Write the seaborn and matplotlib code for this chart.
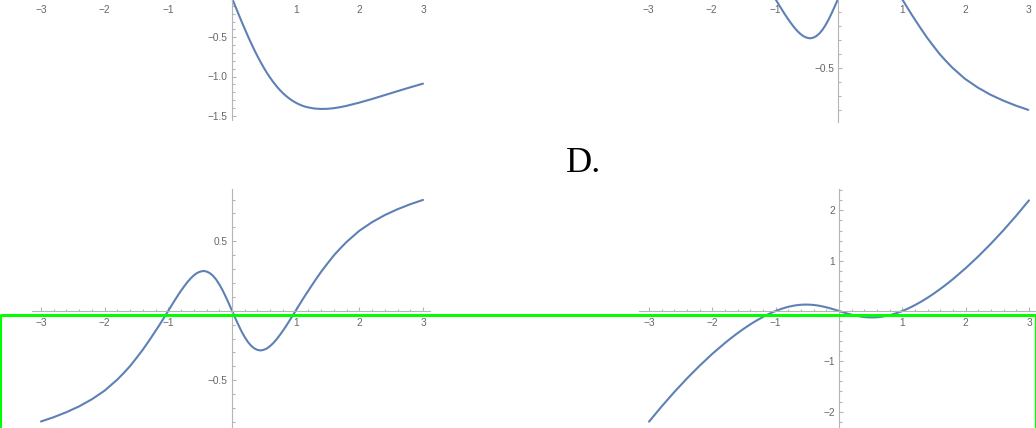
import matplotlib
matplotlib.use("Agg")
import matplotlib.pyplot as plt
from matplotlib.ticker import FixedLocator, FixedFormatter, MultipleLocator
from matplotlib.lines import Line2D
import seaborn as sns

# ---------------- data ----------------
x_vals = [-3.0, -2.8, -2.6, -2.4, -2.2, -2.0, -1.8, -1.7, -1.6, -1.5, -1.4, -1.3,
          -1.2, -1.15, -1.1, -1.05,
          -1.0, -0.95, -0.9, -0.85, -0.8, -0.75, -0.7, -0.65, -0.6, -0.55, -0.5, -0.45,
          -0.4, -0.35, -0.3, -0.25, -0.2, -0.15, -0.1, -0.05, 0.0,
          0.05, 0.1, 0.15, 0.2, 0.25, 0.3, 0.35, 0.4, 0.45, 0.5, 0.55, 0.6, 0.65, 0.7,
          0.75, 0.8, 0.85, 0.9, 0.95, 1.0, 1.05, 1.1, 1.15, 1.2,
          1.3, 1.4, 1.5, 1.6, 1.7, 1.8, 2.0, 2.2, 2.4, 2.6, 2.8, 3.0]

top_left_y = [1.091, 1.138, 1.187, 1.237, 1.287, 1.333, 1.374, 1.391, 1.404, 1.412, 1.414, 1.409,
              1.395, 1.385, 1.371, 1.354,
              1.333, 1.309, 1.281, 1.249, 1.212, 1.171, 1.124, 1.073, 1.017, 0.956, 0.889, 0.817,
              0.741, 0.660, 0.574, 0.485, 0.392, 0.297, 0.199, 0.100, 0.0,
              -0.100, -0.199, -0.297, -0.392, -0.485, -0.574, -0.660, -0.741, -0.817, -0.889, -0.956,
              -1.017, -1.073, -1.124, -1.171, -1.212, -1.249, -1.281, -1.309, -1.333, -1.354, -1.371,
              -1.385, -1.395,
              -1.409, -1.414, -1.412, -1.404, -1.391, -1.374, -1.333, -1.287, -1.237, -1.187, -1.138, -1.091]

top_right_y = [0.797, 0.766, 0.730, 0.688, 0.637, 0.575, 0.495, 0.448, 0.398, 0.340, 0.280, 0.214,
               0.145, 0.110, 0.074, 0.037,
               0.0, -0.037, -0.074, -0.110, -0.144, -0.176, -0.206, -0.232, -0.254, -0.271, -0.281, -0.286,
               -0.282, -0.271, -0.252, -0.225, -0.190, -0.149, -0.102, -0.052, 0.0,
               0.052, 0.102, 0.149, 0.190, 0.225, 0.252, 0.271, 0.282, 0.286, 0.281, 0.271,
               0.254, 0.232, 0.206, 0.176, 0.144, 0.110, 0.074, 0.037, 0.0, -0.037, -0.074,
               -0.110, -0.145,
               -0.214, -0.280, -0.340, -0.398, -0.448, -0.495, -0.575, -0.637, -0.688, -0.730, -0.766, -0.797]

bottom_left_y = [-0.797, -0.766, -0.730, -0.688, -0.637, -0.575, -0.495, -0.448, -0.398, -0.340, -0.280, -0.214,
                 -0.145, -0.110, -0.074, -0.037,
                 0.0, 0.037, 0.074, 0.110, 0.144, 0.176, 0.206, 0.232, 0.254, 0.271, 0.281, 0.286,
                 0.282, 0.271, 0.252, 0.225, 0.190, 0.149, 0.102, 0.052, 0.0,
                 -0.052, -0.102, -0.149, -0.190, -0.225, -0.252, -0.271, -0.282, -0.286, -0.281, -0.271,
                 -0.254, -0.232, -0.206, -0.176, -0.144, -0.110, -0.074, -0.037, 0.0, 0.037, 0.074,
                 0.110, 0.145,
                 0.214, 0.280, 0.340, 0.398, 0.448, 0.495, 0.575, 0.637, 0.688, 0.730, 0.766, 0.797]

bottom_right_y = [-2.200, -1.897, -1.610, -1.340, -1.087, -0.851, -0.635, -0.534, -0.439, -0.349, -0.265, -0.188,
                  -0.118, -0.085, -0.055, -0.026,
                  0.0, 0.024, 0.046, 0.066, 0.083, 0.097, 0.109, 0.118, 0.124, 0.127, 0.127, 0.125,
                  0.120, 0.112, 0.101, 0.088, 0.073, 0.057, 0.039, 0.020, 0.0,
                  -0.020, -0.039, -0.057, -0.073, -0.088, -0.101, -0.112, -0.120, -0.125, -0.127, -0.127,
                  -0.124, -0.118, -0.109, -0.097, -0.083, -0.066, -0.046, -0.024, 0.0, 0.026, 0.055,
                  0.085, 0.118,
                  0.188, 0.265, 0.349, 0.439, 0.534, 0.635, 0.851, 1.087, 1.340, 1.610, 1.897, 2.200]

x_tick_vals = [-3, -2, -1, 1, 2, 3]
x_tick_labels = ["\u22123", "\u22122", "\u22121", "1", "2", "3"]

tl_y_ticks = [-1.5, -1.0, -0.5]
tl_y_labels = ["\u22121.5", "\u22121.0", "\u22120.5"]
tr_y_ticks = [-0.5]
tr_y_labels = ["\u22120.5"]
bl_y_ticks = [-0.5, 0.5]
bl_y_labels = ["\u22120.5", "0.5"]
br_y_ticks = [-2, -1, 1, 2]
br_y_labels = ["\u22122", "\u22121", "1", "2"]

caption = "D."

# ---------------- style ----------------
sns.set_theme(style="white")
plt.rcParams["font.family"] = ["Liberation Sans", "DejaVu Sans"]

W, H = 1036, 428
fig = plt.figure(figsize=(W / 100, H / 100), dpi=100)
fig.patch.set_facecolor("white")

LINE_COLOR = "#5e81b5"
AXIS_COLOR = "#b5b5b5"
LABEL_COLOR = "#666666"


def make_panel(x0, y0, sx, sy, xlim, ylim, yvals, yticks, ylabels, yminor):
    left = x0 + xlim[0] * sx
    right = x0 + xlim[1] * sx
    top = y0 - ylim[1] * sy
    bottom = y0 - ylim[0] * sy
    ax = fig.add_axes([left / W, 1 - bottom / H, (right - left) / W, (bottom - top) / H])
    ax.set_facecolor("none")
    sns.lineplot(x=x_vals, y=yvals, ax=ax, color=LINE_COLOR, linewidth=1.5,
                 estimator=None, sort=False)
    for ln in ax.lines:
        ln.set_solid_joinstyle("round")
        ln.set_solid_capstyle("round")
    ax.set_xlim(*xlim)
    ax.set_ylim(*ylim)
    for s in ("top", "right"):
        ax.spines[s].set_visible(False)
    for s in ("left", "bottom"):
        ax.spines[s].set_position(("data", 0))
        ax.spines[s].set_color(AXIS_COLOR)
        ax.spines[s].set_linewidth(0.8)
    ax.xaxis.set_major_locator(FixedLocator(x_tick_vals))
    ax.xaxis.set_major_formatter(FixedFormatter(x_tick_labels))
    ax.xaxis.set_minor_locator(MultipleLocator(0.2))
    ax.yaxis.set_major_locator(FixedLocator(yticks))
    ax.yaxis.set_major_formatter(FixedFormatter(ylabels))
    ax.yaxis.set_minor_locator(MultipleLocator(yminor))
    ax.tick_params(which="both", direction="in", color=AXIS_COLOR, width=0.8,
                   labelcolor=LABEL_COLOR, labelsize=7.3,
                   bottom=True, left=True, top=False, right=False)
    ax.tick_params(which="major", length=3.0)
    ax.tick_params(which="minor", length=1.8)
    ax.tick_params(axis="x", which="major", pad=5.0)
    ax.tick_params(axis="y", which="major", pad=3.0)
    ax.grid(False)
    ax.set_xlabel("")
    ax.set_ylabel("")
    return ax


make_panel(232.0, -1.9, 63.67, 78.4, (-3.14, 3.11), (-1.555, 1.555),
           top_left_y, tl_y_ticks, tl_y_labels, 0.1)
make_panel(838.3, -1.7, 63.33, 140.0, (-3.16, 3.10), (-0.88, 0.88),
           top_right_y, tr_y_ticks, tr_y_labels, 0.1)
make_panel(232.0, 310.7, 63.67, 139.0, (-3.14, 3.11), (-0.88, 0.873),
           bottom_left_y, bl_y_ticks, bl_y_labels, 0.1)
make_panel(839.0, 311.0, 63.33, 50.3, (-3.16, 3.10), (-2.42, 2.42),
           bottom_right_y, br_y_ticks, br_y_labels, 0.2)

fig.text(584 / W, 1 - 172 / H, caption, ha="center", va="baseline",
         fontsize=26, family=["Liberation Serif", "DejaVu Serif"], color="black")

# green highlight frame
px = 72 / 100
fig.add_artist(Line2D([0, 1], [1 - 314.7 / H] * 2, transform=fig.transFigure,
                      color="#00ff00", linewidth=3 * px, solid_capstyle="butt"))
fig.add_artist(Line2D([1.0 / W] * 2, [0, 1 - 314.7 / H], transform=fig.transFigure,
                      color="#00ff00", linewidth=2 * px, solid_capstyle="butt"))
fig.add_artist(Line2D([1035.0 / W] * 2, [0, 1 - 314.7 / H], transform=fig.transFigure,
                      color="#00ff00", linewidth=1.3 * px, solid_capstyle="butt"))

fig.savefig("out.png", dpi=100, facecolor="white")
